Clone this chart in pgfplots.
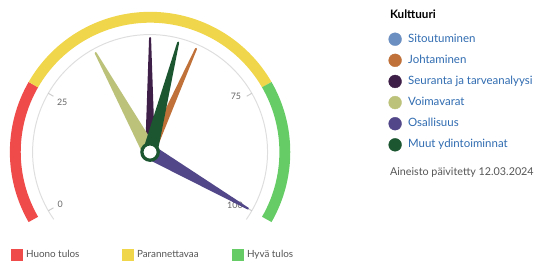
\documentclass[border=0pt]{standalone}
\usepackage{fontspec}
\setmainfont{Lato}
\usepackage{pgfplots}
\pgfplotsset{compat=1.18}
\definecolor{bandred}{HTML}{EF4B4B}
\definecolor{bandyellow}{HTML}{EFD64A}
\definecolor{bandgreen}{HTML}{66CC66}
\definecolor{cSit}{HTML}{6B8FC0}
\definecolor{cJoh}{HTML}{BF7139}
\definecolor{cSeu}{HTML}{3E1F47}
\definecolor{cVoi}{HTML}{BCC27A}
\definecolor{cOsa}{HTML}{524789}
\definecolor{cMuu}{HTML}{1B5631}
\definecolor{legblue}{HTML}{2F6BB0}
\definecolor{textgray}{HTML}{555555}
\definecolor{labelgray}{HTML}{666666}

% gauge: centre (152,154), value v at angle 210-2.4v
\newcommand{\needle}[4]{%
  \pgfmathsetmacro\na{210-2.4*#1}%
  \pgfmathsetmacro\xt{152+#2*cos(\na)}%
  \pgfmathsetmacro\yt{154-#2*sin(\na)}%
  \pgfmathsetmacro\xl{152+#3*cos(\na+90)}%
  \pgfmathsetmacro\yl{154-#3*sin(\na+90)}%
  \pgfmathsetmacro\xr{152+#3*cos(\na-90)}%
  \pgfmathsetmacro\yr{154-#3*sin(\na-90)}%
  \edef\tmpplot{\noexpand\addplot[fill=#4, draw=#4, line width=2pt, line join=round, forget plot]
    coordinates {(\xl,\yl) (\xt,\yt) (\xr,\yr)} -- cycle;}%
  \tmpplot
}

\begin{document}
\begin{tikzpicture}
\begin{axis}[
  scale only axis, width=537pt, height=266pt,
  xmin=0, xmax=537, ymin=0, ymax=266, y dir=reverse,
  hide axis, clip=false,
  legend style={at={(axis cs:393.5,33)}, anchor=north west, draw=none, fill=none,
    font=\fontsize{11.6}{13}\selectfont, text=legblue, row sep=8pt, column sep=6.5pt,
    inner sep=0pt, outer sep=0pt, cells={anchor=west},
    nodes={inner sep=0pt, outer sep=0pt, text height=8.5pt, text depth=2.8pt}},
]
% frame for bounding box
\draw[draw=none] (axis cs:0,0) rectangle (axis cs:537,266);
% colour bands (0-25, 25-75, 75-100)
\draw[overlay, bandred, line width=11pt] (axis cs:152,154) ++(210:136.5pt) arc[start angle=210, end angle=150, radius=136.5pt];
\draw[overlay, bandyellow, line width=11pt] (axis cs:152,154) ++(150:136.5pt) arc[start angle=150, end angle=30, radius=136.5pt];
\draw[overlay, bandgreen, line width=11pt] (axis cs:152,154) ++(30:136.5pt) arc[start angle=30, end angle=-30, radius=136.5pt];
% pane arc and ticks
\draw[overlay, black!13, line width=1pt] (axis cs:152,154) ++(215:119pt) arc[start angle=215, end angle=-35, radius=119pt];
\draw[black!20, line width=1pt] (axis cs:152,154) ++(210:119pt) -- ++(210:-6pt);
\draw[black!20, line width=1pt] (axis cs:152,154) ++(150:119pt) -- ++(150:-6pt);
\draw[black!20, line width=1pt] (axis cs:152,154) ++(30:119pt) -- ++(30:-6pt);
\draw[black!20, line width=1pt] (axis cs:152,154) ++(-30:119pt) -- ++(-30:-6pt);
\node[font=\fontsize{9}{11}\selectfont, text=labelgray] at (axis cs:61,207) {0};
\node[font=\fontsize{9}{11}\selectfont, text=labelgray] at (axis cs:63,104) {25};
\node[font=\fontsize{9}{11}\selectfont, text=labelgray] at (axis cs:239,98) {75};
\node[font=\fontsize{9}{11}\selectfont, text=labelgray] at (axis cs:238,208) {100};
% needles: value, tip radius, half base width, colour
\needle{60}{114.5}{4}{cJoh}
\needle{50}{115.5}{4}{cSeu}
\needle{38}{114.5}{6.5}{cVoi}
\needle{100}{114.5}{6.5}{cOsa}
\needle{56}{114.5}{6.5}{cMuu}
% pivot
\addplot[only marks, mark=*, mark size=8.3pt, mark options={fill=white, draw=cMuu, line width=3.3pt}, forget plot] coordinates {(152,154)};
% legend
\addlegendimage{legend image code/.code={\fill[cSit] (6.5pt,0pt) circle (6.5pt);}}
\addlegendentry{Sitoutuminen}
\addlegendimage{legend image code/.code={\fill[cJoh] (6.5pt,0pt) circle (6.5pt);}}
\addlegendentry{Johtaminen}
\addlegendimage{legend image code/.code={\fill[cSeu] (6.5pt,0pt) circle (6.5pt);}}
\addlegendentry{Seuranta ja tarveanalyysi}
\addlegendimage{legend image code/.code={\fill[cVoi] (6.5pt,0pt) circle (6.5pt);}}
\addlegendentry{Voimavarat}
\addlegendimage{legend image code/.code={\fill[cOsa] (6.5pt,0pt) circle (6.5pt);}}
\addlegendentry{Osallisuus}
\addlegendimage{legend image code/.code={\fill[cMuu] (6.5pt,0pt) circle (6.5pt);}}
\addlegendentry{Muut ydintoiminnat}
\node[anchor=west, font=\bfseries\fontsize{11.8}{13}\selectfont] at (axis cs:391.5,14) {Kulttuuri};
\node[anchor=west, text=textgray, font=\fontsize{10.9}{13}\selectfont] at (axis cs:391.5,175) {Aineisto päivitetty 12.03.2024};
\end{axis}
\begin{axis}[
  scale only axis, width=537pt, height=266pt,
  xmin=0, xmax=537, ymin=0, ymax=266, y dir=reverse,
  hide axis, clip=false, legend columns=3,
  legend style={at={(axis cs:11,258)}, anchor=west, draw=none, fill=none,
    font=\fontsize{10}{12}\selectfont, text=textgray, column sep=0pt,
    inner sep=0pt, outer sep=0pt, cells={anchor=west},
    nodes={inner sep=0pt, outer sep=0pt, text height=7.4pt, text depth=2.2pt},
    /tikz/every odd column/.append style={column sep=4pt}},
]
\addlegendimage{legend image code/.code={\fill[bandred] (0pt,-5.5pt) rectangle (11pt,5.5pt);}}
\addlegendentry{\makebox[97pt][l]{Huono tulos}}
\addlegendimage{legend image code/.code={\fill[bandyellow] (0pt,-5.5pt) rectangle (11pt,5.5pt);}}
\addlegendentry{\makebox[96pt][l]{Parannettavaa}}
\addlegendimage{legend image code/.code={\fill[bandgreen] (0pt,-5.5pt) rectangle (11pt,5.5pt);}}
\addlegendentry{Hyvä tulos}
\end{axis}
\end{tikzpicture}
\end{document}
